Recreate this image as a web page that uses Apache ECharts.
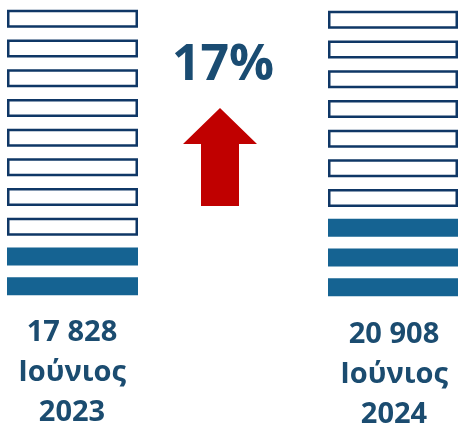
<!DOCTYPE html>
<html>
<head>
<meta charset="utf-8">
<script src="https://cdn.jsdelivr.net/npm/echarts@6/dist/echarts.min.js"></script>
<style>
  html, body { margin: 0; padding: 0; background: #fff; }
  #main { width: 460px; height: 425px; }
</style>
</head>
<body>
<div id="main"></div>
<script>
// 数据
var years = ['2023', '2024'];
var monthName = 'Ιούνιος';
var totals = [17828, 20908];
var slots = 10;            // 每列的格子数
var filledCounts = [2, 3]; // 每列填充的格子数

var fmt = function (n) {
  return String(n).replace(/\B(?=(\d{3})+(?!\d))/g, ' ');
};
var pct = Math.round((totals[1] - totals[0]) / totals[0] * 100);

var cats = [];
for (var i = 0; i < slots; i++) cats.push(i);

function columnData(filled) {
  return cats.map(function (c) {
    var isFilled = c >= slots - filled;
    return {
      value: 1,
      itemStyle: isFilled
        ? { color: '#156392', borderWidth: 0 }
        : { color: '#ffffff', borderColor: '#0f3766', borderWidth: 2.5 }
    };
  });
}

var myChart = echarts.init(document.getElementById('main'));

var option = {
  animation: false,
  backgroundColor: '#ffffff',
  grid: [
    { left: 7, width: 131, top: 4, height: 297 },
    { left: 328, width: 130, top: 5, height: 297 }
  ],
  xAxis: [0, 1].map(function (k) {
    return { gridIndex: k, type: 'value', min: 0, max: 1, show: false };
  }),
  yAxis: [0, 1].map(function (k) {
    return { gridIndex: k, type: 'category', data: cats, inverse: true, show: false };
  }),
  series: [0, 1].map(function (k) {
    return {
      type: 'bar',
      xAxisIndex: k,
      yAxisIndex: k,
      barWidth: 18,
      silent: true,
      data: columnData(filledCounts[k])
    };
  }),
  graphic: [
    {
      type: 'text',
      style: {
        x: 223, y: 66,
        text: pct + '%',
        fill: '#1a4c72',
        font: 'bold 50px "Open Sans"',
        align: 'center',
        verticalAlign: 'middle'
      }
    },
    {
      type: 'polygon',
      shape: {
        points: [[220, 108], [257, 144], [239, 144], [239, 206], [201, 206], [201, 144], [183, 144]]
      },
      style: { fill: '#c00000' }
    },
    {
      type: 'text',
      style: {
        x: 72, y: 373,
        text: fmt(totals[0]) + '\n' + monthName + '\n' + years[0],
        fill: '#1b4c70',
        font: 'bold 29px "Open Sans"',
        lineHeight: 40,
        align: 'center',
        verticalAlign: 'middle'
      }
    },
    {
      type: 'text',
      style: {
        x: 394, y: 375,
        text: fmt(totals[1]) + '\n' + monthName + '\n' + years[1],
        fill: '#1b4c70',
        font: 'bold 29px "Open Sans"',
        lineHeight: 40,
        align: 'center',
        verticalAlign: 'middle'
      }
    }
  ]
};

myChart.setOption(option);
</script>
</body>
</html>
